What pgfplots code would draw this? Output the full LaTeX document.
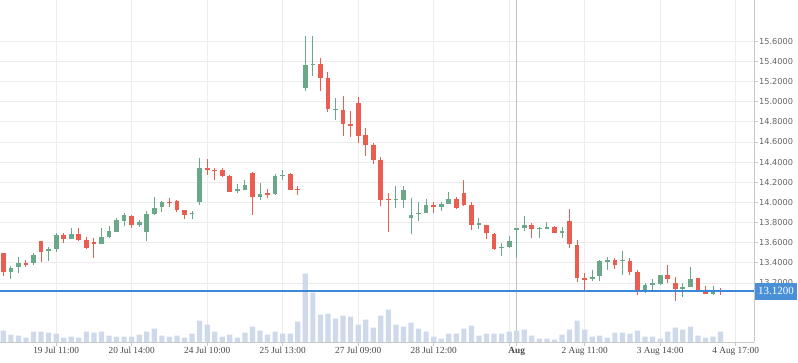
\documentclass[border=0pt]{standalone}
\usepackage{fontspec}
\setmainfont{Liberation Serif}
\newfontfamily\dejavu{DejaVu Sans}
\usepackage{pgfplots}
\usepackage{pgfplotstable}
\pgfplotsset{compat=1.18}
\definecolor{cgreen}{RGB}{107,168,138}
\definecolor{cred}{RGB}{233,94,80}
\definecolor{volblue}{RGB}{206,218,235}
\definecolor{priceblue}{RGB}{60,136,214}
\definecolor{boxblue}{RGB}{74,144,217}
\definecolor{gridgray}{RGB}{236,236,236}
\definecolor{axisgray}{RGB}{200,200,200}
\definecolor{auggray}{RGB}{195,195,195}
\definecolor{labgray}{RGB}{100,100,100}
\definecolor{xlabgray}{RGB}{70,70,70}

% green (up) candles: index open high low close
\pgfplotstableread{
i O H L C
1 13.312 13.369 13.243 13.352
2 13.362 13.458 13.302 13.402
4 13.395 13.494 13.382 13.478
6 13.514 13.557 13.418 13.541
7 13.537 13.696 13.508 13.676
9 13.640 13.746 13.640 13.686
13 13.590 13.746 13.584 13.653
14 13.660 13.766 13.643 13.716
15 13.710 13.842 13.710 13.825
16 13.816 13.895 13.769 13.875
18 13.779 13.825 13.759 13.806
19 13.710 13.911 13.620 13.885
20 13.885 14.054 13.878 13.945
21 13.951 14.017 13.905 14.004
25 13.882 13.915 13.832 13.896
26 14.004 14.441 13.974 14.345
31 14.117 14.183 14.097 14.133
32 14.123 14.223 14.123 14.173
34 14.057 14.193 14.027 14.084
36 14.084 14.282 14.074 14.262
37 14.262 14.322 14.223 14.276
40 15.140 15.653 15.110 15.365
41 15.365 15.653 15.259 15.378
44 14.918 15.037 14.818 14.932
52 14.020 14.163 13.948 14.034
53 14.027 14.163 13.948 14.123
54 13.849 14.044 13.690 13.875
55 13.880 14.004 13.819 13.894
56 13.898 14.034 13.898 13.974
58 13.958 14.004 13.918 13.984
59 13.984 14.103 13.984 14.034
63 13.779 13.845 13.736 13.793
66 13.544 13.600 13.468 13.561
67 13.561 13.667 13.551 13.617
68 13.728 13.745 13.451 13.742
69 13.749 13.865 13.719 13.772
71 13.734 13.759 13.650 13.748
72 13.739 13.802 13.739 13.756
74 13.693 13.759 13.650 13.716
78 13.240 13.329 13.223 13.263
79 13.269 13.428 13.223 13.418
80 13.412 13.455 13.329 13.428
82 13.418 13.518 13.283 13.432
85 13.130 13.196 13.097 13.180
86 13.181 13.239 13.130 13.195
87 13.190 13.279 13.180 13.279
90 13.144 13.196 13.064 13.158
91 13.157 13.355 13.157 13.240
94 13.094 13.170 13.077 13.120
}\uptab

% red (down) candles: index open high low close
\pgfplotstableread{
i O H L C
0 13.498 13.498 13.269 13.312
3 13.398 13.428 13.362 13.379
5 13.617 13.617 13.408 13.511
8 13.676 13.693 13.600 13.633
10 13.690 13.746 13.620 13.630
11 13.627 13.653 13.534 13.551
12 13.607 13.647 13.451 13.590
17 13.865 13.872 13.749 13.779
22 14.004 14.041 13.958 13.990
23 14.017 14.024 13.905 13.925
24 13.925 13.925 13.835 13.878
27 14.338 14.431 14.276 14.322
28 14.322 14.342 14.226 14.308
29 14.322 14.342 14.249 14.262
30 14.266 14.269 14.103 14.103
33 14.295 14.302 13.878 14.057
35 14.090 14.130 14.047 14.074
38 14.282 14.289 14.123 14.123
39 14.137 14.163 14.074 14.122
42 15.375 15.434 15.110 15.239
43 15.236 15.295 14.901 14.931
45 14.918 15.057 14.663 14.782
46 14.775 14.908 14.653 14.760
47 14.987 15.047 14.593 14.663
48 14.670 14.739 14.464 14.573
49 14.570 14.590 14.385 14.425
50 14.421 14.451 13.968 14.027
51 14.034 14.090 13.710 14.020
57 13.974 14.004 13.898 13.958
60 14.034 14.054 13.938 13.948
61 14.094 14.223 13.968 13.974
62 13.974 14.004 13.726 13.779
64 13.776 13.776 13.640 13.700
65 13.686 13.693 13.527 13.537
70 13.772 13.792 13.650 13.739
73 13.753 13.763 13.693 13.693
75 13.812 13.931 13.551 13.590
76 13.574 13.623 13.213 13.253
77 13.248 13.296 13.130 13.234
81 13.432 13.448 13.342 13.379
83 13.422 13.451 13.279 13.312
84 13.312 13.329 13.081 13.130
88 13.279 13.375 13.203 13.243
89 13.203 13.256 13.024 13.144
92 13.249 13.249 13.130 13.130
93 13.120 13.167 13.091 13.091
95 13.132 13.153 13.081 13.118
96 13.124 13.124 13.110 13.110
}\downtab

% volume (relative units)
\pgfplotstableread{
i v
0 11.3
1 7.3
2 6.3
3 4.3
4 10.3
5 10.3
6 9.3
7 8.3
8 4.3
9 5.3
10 4.3
11 10.3
12 9.3
13 10.3
14 6.3
15 5.3
16 5.3
17 5.3
18 7.3
19 10.3
20 13.3
21 6.3
22 5.3
23 6.3
24 4.3
25 8.3
26 21.3
27 17.3
28 10.3
29 5.3
30 7.3
31 4.3
32 9.3
33 15.3
34 11.3
35 7.3
36 10.3
37 8.3
38 8.3
39 20.3
40 68.3
41 49.3
42 27.3
43 28.3
44 23.3
45 26.3
46 25.3
47 17.3
48 22.3
49 14.3
50 26.3
51 32.3
52 17.3
53 15.3
54 19.3
55 13.3
56 10.3
57 5.3
58 3.3
59 8.3
60 8.3
61 13.3
62 16.3
63 6.3
64 8.3
65 8.3
66 8.3
67 10.3
68 11.3
69 12.3
70 6.3
71 3.3
72 3.3
73 2.3
74 7.3
75 12.3
76 21.3
77 12.3
78 5.3
79 6.3
80 4.3
81 9.3
82 9.3
83 8.3
84 11.3
85 5.3
86 5.3
87 3.3
88 10.3
89 14.3
90 12.3
91 15.3
92 6.3
93 4.3
94 5.3
95 10.3
}\voltab

\pgfplotsset{
  common/.style={
    at={(0pt,21pt)}, anchor=south west,
    scale only axis, width=754pt, height=342pt,
    xmin=-0.44, xmax=99.43,
  },
  candle/.style n args={2}{draw=none, mark=none, forget plot,
    error bars/.cd, y dir=plus, y explicit, error mark=none,
    error bar style={draw=#1, solid, line width=#2}},
}

\begin{document}
\begin{tikzpicture}
% grid, axis lines and labels
\begin{axis}[common,
  ymin=12.614, ymax=16.010,
  axis x line=bottom, axis y line=right,
  axis line style={-, draw=axisgray, line width=0.8pt},
  tick align=outside, major tick length=4pt,
  tick style={draw=axisgray, line width=0.8pt},
  xtick={7,17,27,37,47,57,67,77,87,97},
  xticklabels={19 Jul 11:00, 20 Jul 14:00, 24 Jul 10:00, 25 Jul 13:00, 27 Jul 09:00, 28 Jul 12:00, {}, 2 Aug 11:00, 3 Aug 14:00, 4 Aug 17:00},
  extra x ticks={68},
  extra x tick labels={\bfseries Aug},
  extra x tick style={grid=major, major grid style={draw=auggray, line width=1.1pt}},
  xticklabel style={font=\fontsize{9.3}{10}\selectfont, text=xlabgray, inner sep=1pt},
  ytick={13.2,13.4,13.6,13.8,14.0,14.2,14.4,14.6,14.8,15.0,15.2,15.4,15.6},
  yticklabel style={font=\dejavu\fontsize{8.2}{9}\selectfont, text=labgray, inner sep=1pt,
    /pgf/number format/.cd, fixed, fixed zerofill, precision=4, assume math mode=true},
  grid=major, major grid style={draw=gridgray, line width=0.8pt},
]
\end{axis}
% volume
\begin{axis}[common, ymin=0, ymax=342, hide axis]
\addplot[ybar, bar width=5.2pt, fill=volblue, draw=none] table[x=i, y=v] \voltab;
\end{axis}
% candles
\begin{axis}[common, ymin=12.614, ymax=16.010, hide axis, clip=false]
\addplot[candle={cgreen}{1pt}]
  table[x=i, y=L, y error plus expr=\thisrow{H}-\thisrow{L}] \uptab;
\addplot[candle={cgreen}{4.7pt}]
  table[x=i, y=O, y error plus expr=\thisrow{C}-\thisrow{O}] \uptab;
\addplot[candle={cred}{1pt}]
  table[x=i, y=L, y error plus expr=\thisrow{H}-\thisrow{L}] \downtab;
\addplot[candle={cred}{4.7pt}]
  table[x=i, y=C, y error plus expr=\thisrow{O}-\thisrow{C}] \downtab;
\end{axis}
% last-price line
\begin{axis}[common, ymin=12.614, ymax=16.010, hide axis, clip=false]
\addplot[priceblue, solid, mark=none, line width=1.4pt] coordinates {(-0.44,13.12) (99.43,13.12)};
\node[fill=boxblue, text=white, anchor=west, inner xsep=3pt, inner ysep=0pt,
  minimum height=17pt, font=\fontsize{11}{12}\selectfont, xshift=1pt]
  at (axis cs:99.43,13.12) {13.1200};
\end{axis}
\pgfresetboundingbox
\useasboundingbox (0,0) rectangle (798pt,363pt);
\end{tikzpicture}
\end{document}
